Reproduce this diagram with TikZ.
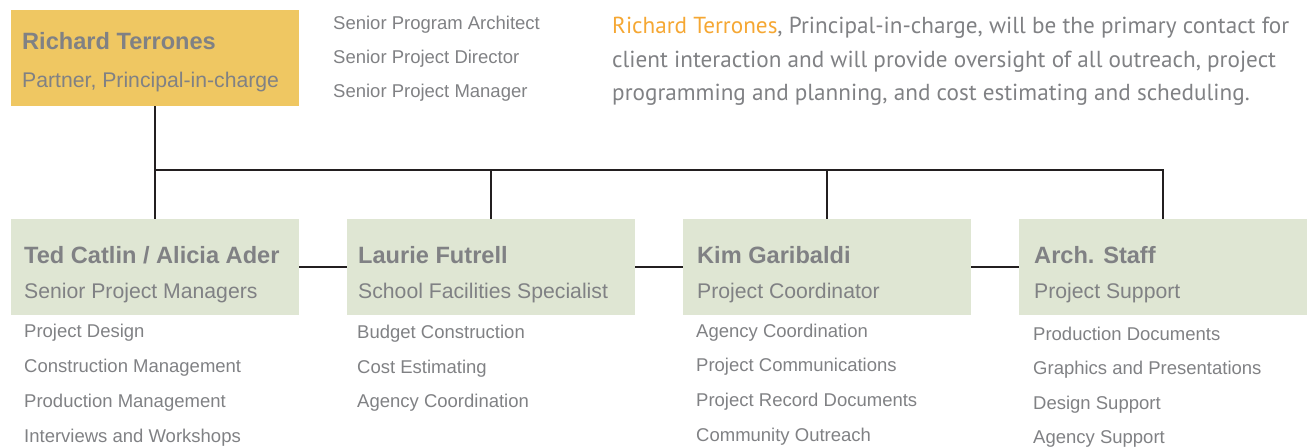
\documentclass[tikz,border=0pt]{standalone}
\usepackage{fontspec}
\setmainfont{Liberation Sans}
\newfontfamily\parafont{PT Sans}
\definecolor{boxyellow}{HTML}{EFC762}
\definecolor{boxgreen}{HTML}{DFE6D3}
\definecolor{txtgray}{HTML}{808184}
\definecolor{accent}{HTML}{F5A733}
\definecolor{linecol}{HTML}{231F20}
\newlength\plen
\tikzset{
  box/.style={rectangle, draw=none, inner sep=0pt, minimum width=288pt, minimum height=96pt, anchor=north west},
  ybox/.style={box, fill=boxyellow},
  gbox/.style={box, fill=boxgreen},
  ttl/.style={anchor=base west, inner sep=0pt, text=txtgray, font=\bfseries\fontsize{23.6}{28}\selectfont},
  sub/.style={anchor=base west, inner sep=0pt, text=txtgray, font=\fontsize{21.2}{25}\selectfont},
  item/.style={anchor=base west, inner sep=0pt, text=txtgray, font=\fontsize{18.5}{22}\selectfont},
  para/.style={anchor=base west, inner sep=0pt, text=txtgray, font=\parafont\fontsize{\psize}{\psize}\selectfont},
  conn/.style={draw=linecol, line width=2.2pt},
}
\begin{document}
\settowidth\plen{\parafont\fontsize{20}{20}\selectfont Richard Terrones, Principal-in-charge, will be the primary contact for}%
\pgfmathsetmacro\psize{20*677/\plen}%
\begin{tikzpicture}[x=1pt, y=-1pt]
\useasboundingbox (0,0) rectangle (1309,447);
% boxes
\node[ybox] (rt) at (11,10) {};
\node[gbox] (b1) at (11,219) {};
\node[gbox] (b2) at (347,219) {};
\node[gbox] (b3) at (683,219) {};
\node[gbox] (b4) at (1019,219) {};
\coordinate (bus) at (0,170);
% connectors
\draw[conn] (rt.south) -- (b1.north);
\draw[conn] (b1.north |- bus) -| (b4.north);
\draw[conn] (b2.north |- bus) -- (b2.north);
\draw[conn] (b3.north |- bus) -- (b3.north);
\draw[conn] (b1.east) -- (b2.west);
\draw[conn] (b2.east) -- (b3.west);
\draw[conn] (b3.east) -- (b4.west);
% top box text
\node[ttl] (rtt) at (22,49) {Richard Terrones};
\node[sub] (rts) at (22,87) {Partner, Principal-in-charge};
\node[item] (ra1) at (333,29) {Senior Program Architect};
\node[item] (ra2) at (333,63) {Senior Project Director};
\node[item] (ra3) at (333,97) {Senior Project Manager};
% paragraph
\node[para] (p1) at (612,33) {\textcolor{accent}{Richard Terrones}, Principal-in-charge, will be the primary contact for};
\node[para] (p2) at (612,67) {client interaction and will provide oversight of all outreach, project};
\node[para] (p3) at (612,100) {programming and planning, and cost estimating and scheduling.};
% column 1
\node[ttl] (t1) at (24,263) {Ted Catlin / Alicia Ader};
\node[sub] (s1) at (24,298) {Senior Project Managers};
\node[item] (i11) at (24,337) {Project Design};
\node[item] (i12) at (24,372) {Construction Management};
\node[item] (i13) at (24,407) {Production Management};
\node[item] (i14) at (24,442) {Interviews and Workshops};
% column 2
\node[ttl] (t2) at (358,263) {Laurie Futrell};
\node[sub] (s2) at (358,298) {School Facilities Specialist};
\node[item] (i21) at (357,338) {Budget Construction};
\node[item] (i22) at (357,373) {Cost Estimating};
\node[item] (i23) at (357,407) {Agency Coordination};
% column 3
\node[ttl] (t3) at (697,263) {Kim Garibaldi};
\node[sub] (s3) at (697,298) {Project Coordinator};
\node[item] (i31) at (696,337) {Agency Coordination};
\node[item] (i32) at (696,371) {Project Communications};
\node[item] (i33) at (696,406) {Project Record Documents};
\node[item] (i34) at (696,441) {Community Outreach};
% column 4
\node[ttl] (t4) at (1034,263) {Arch. Staff};
\node[sub] (s4) at (1034,298) {Project Support};
\node[item] (i41) at (1033,340) {Production Documents};
\node[item] (i42) at (1033,374) {Graphics and Presentations};
\node[item] (i43) at (1033,409) {Design Support};
\node[item] (i44) at (1033,443) {Agency Support};
\end{tikzpicture}
\end{document}
